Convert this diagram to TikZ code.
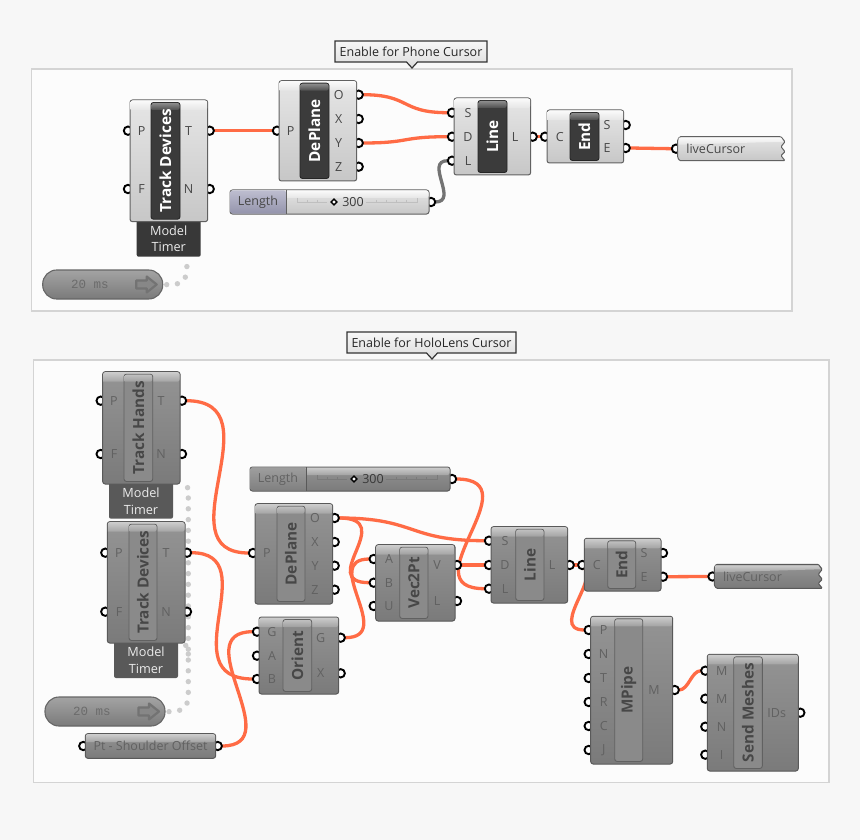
\documentclass[tikz,border=0pt]{standalone}
\usepackage{fontspec}
\setmainfont{Open Sans}
\setmonofont{Liberation Mono}
\usetikzlibrary{calc,shapes.geometric}
\pgfdeclarelayer{panel}\pgfdeclarelayer{wirel}\pgfdeclarelayer{portl}
\pgfsetlayers{panel,wirel,portl,main}
\definecolor{wirecol}{HTML}{FF6B45}
\definecolor{sliontop}{HTML}{BDBDCF}
\definecolor{slionbot}{HTML}{9494AC}
\newcommand\modeon{%
 \colorlet{bodyT}{white!90!black}\colorlet{bodyB}{white!78!black}%
 \colorlet{bandT}{white!98!black}\colorlet{bandB}{white!90!black}%
 \colorlet{capF}{black!77}\colorlet{capBT}{black!45}\colorlet{capBB}{black!70}%
 \colorlet{capE}{black!85}\colorlet{capX}{white}\colorlet{labc}{black!72}%
 \colorlet{edgec}{black!62}\colorlet{tabc}{black!78}%
 \colorlet{sliT}{sliontop}\colorlet{sliB}{slionbot}\colorlet{tickc}{black!25}}
\newcommand\modeoff{%
 \colorlet{bodyT}{black!42}\colorlet{bodyB}{black!52}%
 \colorlet{bandT}{black!20}\colorlet{bandB}{black!36}%
 \colorlet{capF}{black!46}\colorlet{capBT}{black!25}\colorlet{capBB}{black!38}%
 \colorlet{capE}{black!62}\colorlet{capX}{black!72}\colorlet{labc}{black!62}%
 \colorlet{edgec}{black!65}\colorlet{tabc}{black!65}%
 \colorlet{sliT}{black!38}\colorlet{sliB}{black!50}\colorlet{tickc}{black!52}}
\tikzset{
 x=1pt,y=-1pt,
 frame/.style={draw=black!17,line width=1.3pt,fill=white!99!black},
 wire/.style={draw=wirecol,line width=3.3pt},
 greywire/.style={draw=black!55,line width=3.3pt},
 timerwire/.style={draw=black!20,line width=5.4pt,line cap=round,dash pattern=on 0pt off 10.8pt},
 port/.style={circle,draw=black,fill=white,line width=1.9pt,inner sep=0pt,outer sep=0pt,minimum size=8.4pt},
 lab/.style={text=labc,font=\fontsize{12.5}{14}\selectfont,inner sep=0pt},
 comptitle/.style={rotate=90,text=capX,font=\fontsize{15.3}{17}\selectfont\bfseries,inner sep=0pt},
 body/.style={draw=edgec,line width=1pt,rounded corners=2.5pt,top color=bodyT,bottom color=bodyB,inner sep=0pt,outer sep=0pt},
 capbox/.style={draw=capE,line width=.9pt,rounded corners=2.5pt,fill=capF,inner sep=0pt,outer sep=0pt},
 tabbox/.style={fill=tabc,rounded corners=2pt,inner sep=0pt,outer sep=0pt},
 tabtext/.style={text=white!92!black,font=\fontsize{12.7}{14}\selectfont,inner sep=0pt},
 bubbletext/.style={text=black!85,font=\fontsize{12.5}{14}\selectfont,inner sep=0pt},
 bubbleshape/.style={draw=black!80,line width=1.2pt,top color=white!97!black,bottom color=white!86!black},
 pillbox/.style={draw=black!60,line width=1.1pt,rounded corners=14pt,top color=black!36,bottom color=black!52,inner sep=0pt,outer sep=0pt},
 pilltext/.style={text=black!58,font=\ttfamily\fontsize{12.5}{14}\selectfont,inner sep=0pt},
}
% name x1 y1 x2 y2 cx1 cx2 title
\newcommand\comp[8]{%
 \pgfmathsetlengthmacro\compw{(#4)-(#2)}\pgfmathsetlengthmacro\comph{(#5)-(#3)}%
 \pgfmathsetmacro\capw{#7-#6}\pgfmathsetmacro\caph{#5-#3-5}%
 \node[body,minimum width=\compw,minimum height=\comph] (#1) at ({(#2+#4)/2},{(#3+#5)/2}) {};
 \shade[top color=bandT,bottom color=bandB,rounded corners=2pt] (#2+.5,#3+10) -- (#2+.5,#3+.5) -- (#4-.5,#3+.5) -- (#4-.5,#3+10) [sharp corners] -- cycle;
 \node[capbox,minimum width=\capw pt,minimum height=\caph pt] (#1c) at ({(#6+#7)/2},{(#3+#5)/2}) {};
 \shade[top color=capBT,bottom color=capBB,rounded corners=2pt] (#6+.5,#3+10) -- (#6+.5,#3+3) -- (#7-.5,#3+3) -- (#7-.5,#3+10) [sharp corners] -- cycle;
 \node[comptitle] (#1t) at ({(#6+#7)/2},{(#3+#5)/2}) {#8};
}
% name x y label labx
\newcommand\pin[5]{%
 \begin{pgfonlayer}{portl}\node[port] (#1) at (#2,#3) {};\end{pgfonlayer}
 \node[lab] (#1t) at (#5,#3) {#4};
}
\newcommand\tabbed[6]{% name x1 y1 x2 y2 cx
 \pgfmathsetlengthmacro\compw{(#4)-(#2)}\pgfmathsetlengthmacro\comph{(#5)-(#3)+4}%
 \node[tabbox,minimum width=\compw,minimum height=\comph] (#1) at ({(#2+#4)/2},{(#3+#5-4)/2}) {};
 \node[tabtext] (#1a) at (#6,#3+9) {Model};
 \node[tabtext] (#1b) at (#6,#3+25.5) {Timer};
}
\newcommand\slider[4]{% name x1 y1 width
 \pgfmathsetlengthmacro\compw{#4}%
 \node[body,minimum width=\compw,minimum height=24pt] (#1) at ({#2+#4/2},#3+12) {};
 \shade[top color=bandT,bottom color=bandB,rounded corners=2pt] (#2+.5,#3+8) -- (#2+.5,#3+.5) -- (#2+#4-.5,#3+.5) -- (#2+#4-.5,#3+8) [sharp corners] -- cycle;
 \shade[top color=sliT,bottom color=sliB,rounded corners=2pt] (#2+56,#3+23.5) -- (#2+.5,#3+23.5) -- (#2+.5,#3+.5) -- (#2+56,#3+.5) [sharp corners] -- cycle;
 \draw[edgec,line width=.9pt] (#2+56,#3) -- (#2+56,#3+24);
 \node[lab] (#1l) at (#2+28,#3+12) {Length};
 \draw[tickc,line width=.5pt] (#2+67,#3+8) -- (#2+67,#3+12) -- (#2+97,#3+12) (#2+136,#3+12) -- (#2+187,#3+12) -- (#2+187,#3+8);
 \foreach \tx in {77,87,146,156,166,176}{\draw[tickc,line width=.5pt] (#2+\tx,#3+10) -- (#2+\tx,#3+12);}
 \node[draw=black,fill=white,line width=1.4pt,diamond,inner sep=0pt,minimum size=6.5pt] (#1d) at (#2+104,#3+12) {};
 \node[lab,text=black!78] (#1v) at (#2+123,#3+12) {300};
}
\newcommand\param[4]{% name x1 y1 x2
 \draw[draw=edgec,line width=1pt,top color=bodyT,bottom color=bodyB,rounded corners=1pt] (#2,#3+3) -- (#2+2,#3) -- (#4-4,#3) -- (#4,#3+5) -- (#4-4,#3+10) -- (#4,#3+15) -- (#4-4,#3+19) -- (#4,#3+24) -- (#2+2,#3+24) -- (#2,#3+21) -- cycle;
 \shade[top color=bandT,bottom color=bandB] (#2+1,#3+1) -- (#4-4,#3+1) -- (#4-1.5,#3+5) -- (#2+1,#3+8) -- cycle;
 \node[lab,anchor=west] (#1) at (#2+8.5,#3+12.2) {liveCursor};
}
\newcommand\pill[4]{% name x1 y1 textx
 \node[pillbox,minimum width=120pt,minimum height=29pt] (#1) at (#2+60,#3+14.5) {};
 \node[pilltext] (#1t) at (#4,#3+14.5) {20 ms};
 \draw[draw=black!55,line width=2.2pt,fill=black!47,line join=round] (#2+93.5,#3+10.5) -- (#2+104,#3+10.5) -- (#2+104,#3+6.5) -- (#2+114,#3+14.5) -- (#2+104,#3+22.5) -- (#2+104,#3+18.5) -- (#2+93.5,#3+18.5) -- cycle;
}
\begin{document}
\begin{tikzpicture}
\useasboundingbox (0,0) rectangle (860,840);
\begin{pgfonlayer}{panel}
\fill[white!97!black] (0,0) rectangle (860,840);
\draw[frame] (31.5,69) rectangle (792,311);
\draw[frame] (33.5,360) rectangle (829,782.5);
\end{pgfonlayer}
% ---- bubbles
\draw[bubbleshape] (335,41) -- (487,41) -- (487,62) -- (417.5,62) -- (412,68) -- (406.5,62) -- (335,62) -- cycle;
\node[bubbletext] (bub1) at (411,51.5) {Enable for Phone Cursor};
\draw[bubbleshape] (347,332) -- (516,332) -- (516,353) -- (437.5,353) -- (432,359) -- (426.5,353) -- (347,353) -- cycle;
\node[bubbletext] (bub2) at (431.5,342.5) {Enable for HoloLens Cursor};
% ---- upper group
\modeon
\tabbed{atab}{136.7}{221.7}{200.7}{256.7}{168.7}
\comp{atd}{130}{100}{207.7}{221.7}{151}{180}{Track Devices}
\pin{atdP}{128}{130.7}{P}{141.7}\pin{atdF}{128}{189}{F}{141.7}
\pin{atdT}{209.7}{130.7}{T}{188.7}\pin{atdN}{209.7}{189}{N}{188.7}
\comp{adp}{279}{80.7}{356.7}{181}{300}{329}{DePlane}
\pin{adpP}{277}{130.7}{P}{290.7}
\pin{adpO}{358.7}{94.7}{O}{338.7}\pin{adpX}{358.7}{119}{X}{338.7}
\pin{adpY}{358.7}{143}{Y}{338.7}\pin{adpZ}{358.7}{166.7}{Z}{338.7}
\slider{asl}{230}{190}{199}
\pin{aslO}{431}{202}{}{431}
\comp{aln}{454}{98}{530.7}{175}{478}{507}{Line}
\pin{alnS}{452}{112.7}{S}{468}\pin{alnD}{452}{136.7}{D}{468}\pin{alnL}{452}{160.7}{L}{468}
\pin{alnO}{532.7}{136.7}{L}{515}
\comp{aen}{547}{110}{623.7}{163}{570}{599}{End}
\pin{aenC}{545}{136.7}{C}{559.7}
\pin{aenS}{625.7}{125}{S}{607}\pin{aenE}{625.7}{148}{E}{607}
\param{alc}{677.7}{136.7}{785}
\pin{alcI}{676}{148.7}{}{676}
\pill{apl}{42.7}{270}{90}
\coordinate (dota) at (187,257);
\begin{pgfonlayer}{wirel}
\draw[timerwire,dash phase=6.8pt] (apl.east) .. controls +(24,1) and +(0,24) .. (dota);
\draw[wire] (atdT.east) -- (adpP.west);
\draw[wire] (adpO.east) .. controls +(48,0) and +(-48,0) .. (alnS.west);
\draw[wire] (adpY.east) .. controls +(48,0) and +(-48,0) .. (alnD.west);
\draw[greywire] (aslO.east) .. controls +(24,0) and +(-24,0) .. (alnL.west);
\draw[wire] (alnO.east) -- (aenC.west);
\draw[wire] (aenE.east) -- (alcI.west);
\end{pgfonlayer}
% ---- lower group
\modeoff
\tabbed{btab}{109}{484}{173}{518.7}{141}
\comp{bth}{102.7}{371.7}{180}{484}{124}{152.7}{Track Hands}
\pin{bthP}{100.7}{400.7}{P}{114}\pin{bthF}{100.7}{454}{F}{114}
\pin{bthT}{182}{400.7}{T}{161}\pin{bthN}{182}{454}{N}{161}
\tabbed{ctab}{114}{643}{178}{678}{146}
\comp{ctd}{107.3}{521.7}{185}{643}{129}{157}{Track Devices}
\pin{ctdP}{105.3}{552.7}{P}{119}\pin{ctdF}{105.3}{611.7}{F}{119}
\pin{ctdT}{187}{552.7}{T}{166}\pin{ctdN}{187}{611.7}{N}{166}
\slider{bsl}{250}{467}{200}
\pin{bslO}{452}{479}{}{452}
\comp{bdp}{255}{503.7}{332.7}{604}{277}{305}{DePlane}
\pin{bdpP}{253}{553}{P}{267}
\pin{bdpO}{334.7}{518}{O}{315}\pin{bdpX}{334.7}{542}{X}{315}
\pin{bdpY}{334.7}{565.7}{Y}{315}\pin{bdpZ}{334.7}{589.7}{Z}{315}
\comp{bor}{259}{617}{338.7}{694}{283}{311.7}{Orient}
\pin{borG}{257}{631.7}{G}{272}\pin{borA}{257}{655.7}{A}{272}\pin{borB}{257}{679}{B}{272}
\pin{borO}{340.7}{637.7}{G}{320.7}\pin{borX}{340.7}{673.3}{X}{320.7}
\comp{bvp}{375.7}{544.7}{455}{621}{399.7}{428}{Vec2Pt}
\pin{bvpA}{373.7}{559}{A}{389}\pin{bvpB}{373.7}{582.7}{B}{389}\pin{bvpU}{373.7}{606}{U}{389}
\pin{bvpV}{457}{565}{V}{437}\pin{bvpL}{457}{601}{L}{437}
\comp{bln}{491}{526.7}{567.7}{603}{515.7}{544}{Line}
\pin{blnS}{489}{540.7}{S}{505}\pin{blnD}{489}{565}{D}{505}\pin{blnL}{489}{588.7}{L}{505}
\pin{blnO}{569.7}{565}{L}{552}
\comp{ben}{584.3}{538.3}{661}{591}{607.7}{635.7}{End}
\pin{benC}{582.3}{565}{C}{596.7}
\pin{benS}{663}{553}{S}{644}\pin{benE}{663}{576.7}{E}{644}
\param{blc}{714.3}{564.3}{822.3}
\pin{blcI}{712.5}{576.5}{}{712.5}
\comp{bmp}{590.7}{616.3}{672.7}{764}{614.7}{642.7}{MPipe}
\pin{bmpP}{588.7}{630}{P}{603.7}\pin{bmpN}{588.7}{654}{N}{603.7}\pin{bmpT}{588.7}{678}{T}{603.7}
\pin{bmpR}{588.7}{702}{R}{603.7}\pin{bmpC}{588.7}{726}{C}{603.7}\pin{bmpJ}{588.7}{750}{J}{603.7}
\pin{bmpM}{674.7}{690}{M}{654}
\comp{bsm}{707.3}{654.3}{798.3}{771}{733.7}{762.3}{Send Meshes}
\pin{bsmM}{705.3}{670.7}{M}{721.7}\pin{bsmH}{705.3}{698.7}{M}{721.7}
\pin{bsmN}{705.3}{726.7}{N}{721.7}\pin{bsmI}{705.3}{754.7}{I}{721.7}
\pin{bsmO}{800.3}{712.7}{IDs}{776.7}
% shoulder offset
\node[body,minimum width=130.4pt,minimum height=24.6pt] (bso) at (150.5,746) {};
\shade[top color=bandT,bottom color=bandB,rounded corners=2pt] (85.8,742) -- (85.8,734.2) -- (215.2,734.2) -- (215.2,742) [sharp corners] -- cycle;
\node[lab] (bsot) at (150.5,746) {Pt - Shoulder Offset};
\pin{bsoI}{83.3}{746}{}{83.3}\pin{bsoO}{217.7}{746}{}{217.7}
\pill{bpl}{45}{697}{92}
\coordinate (dotj) at (188.3,654);
\coordinate (dotk) at (185,643);
\coordinate (dotc) at (188.3,693);
\coordinate (dott) at (188.3,488);
\begin{pgfonlayer}{wirel}
\draw[timerwire,dash phase=6.8pt] (bpl.east) .. controls +(20,1) and +(0,14) .. (dotc) -- (dott) -- (bth.south east);
\draw[timerwire,dash pattern=on 0pt off 9pt] (dotj) -- (dotk);
\draw[wire] (bthT.east) .. controls +(92,0) and +(-88,0) .. (bdpP.west);
\draw[wire] (ctdT.east) .. controls +(76,0) and +(-84,0) .. (borB.west);
\draw[wire] (bsoO.east) .. controls +(68,0) and +(-68,0) .. (borG.west);
\draw[wire] (bdpO.east) .. controls +(78,0) and +(-78,0) .. (blnS.west);
\draw[wire] (bdpO.east) .. controls +(60,0) and +(-54,0) .. (bvpB.west);
\draw[wire] (borO.east) .. controls +(52,0) and +(-50,0) .. (bvpA.west);
\draw[wire] (bvpV.east) -- (blnD.west);
\draw[wire] (bslO.east) .. controls +(78,0) and +(-78,0) .. (blnL.west);
\draw[wire] (blnO.east) -- (benC.west);
\draw[wire] (blnO.east) .. controls +(40,0) and +(-40,0) .. (bmpP.west);
\draw[wire] (benE.east) -- (blcI.west);
\draw[wire] (bmpM.east) .. controls +(10,0) and +(-10,0) .. (bsmM.west);
\end{pgfonlayer}
\end{tikzpicture}
\end{document}
